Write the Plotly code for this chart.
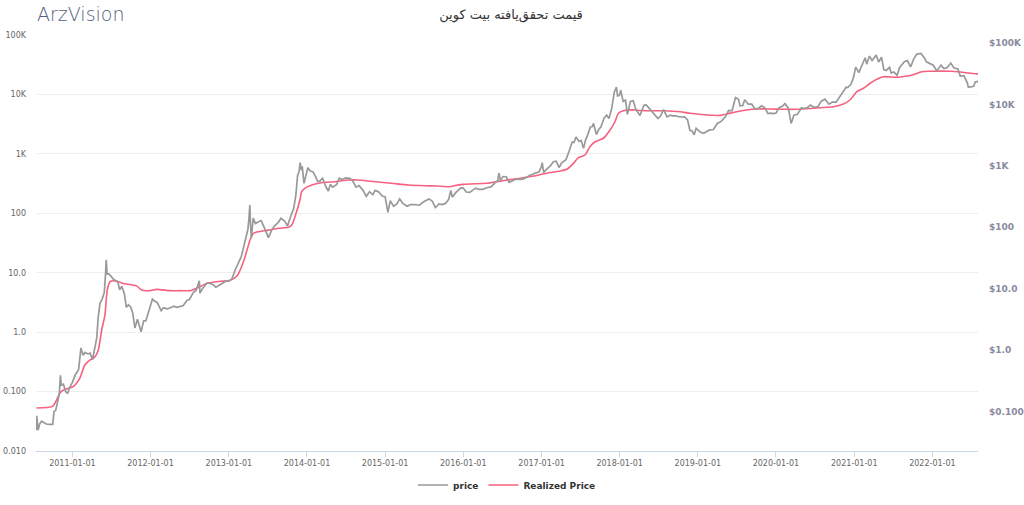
import plotly.graph_objects as go

# ---------------- data ----------------
price_dates = [
"2010-07-17","2010-07-18","2010-07-20","2010-07-25","2010-08-01","2010-08-10","2010-08-20","2010-09-01","2010-09-15",
"2010-10-01","2010-10-07","2010-10-15","2010-10-25","2010-11-01","2010-11-06","2010-11-10","2010-11-20","2010-12-01",
"2010-12-10","2010-12-20","2011-01-01","2011-01-15","2011-01-30","2011-02-10","2011-02-20","2011-03-01","2011-03-15",
"2011-03-25","2011-04-05","2011-04-15","2011-04-25","2011-05-01","2011-05-10","2011-05-20","2011-05-30","2011-06-05",
"2011-06-08","2011-06-12","2011-06-20","2011-06-30","2011-07-10","2011-07-20","2011-08-01","2011-08-10","2011-08-20",
"2011-09-01","2011-09-10","2011-09-20","2011-10-01","2011-10-10","2011-10-20","2011-11-01","2011-11-18","2011-11-30",
"2011-12-10","2011-12-20","2012-01-01","2012-01-10","2012-01-20","2012-02-01","2012-02-20","2012-03-01","2012-03-20",
"2012-04-01","2012-04-20","2012-05-01","2012-05-20","2012-06-01","2012-06-20","2012-07-01","2012-07-20","2012-08-01",
"2012-08-16","2012-08-19","2012-09-01","2012-09-20","2012-10-01","2012-10-20","2012-11-01","2012-11-20","2012-12-01",
"2012-12-20","2013-01-01","2013-01-15","2013-01-31","2013-02-15","2013-02-28","2013-03-10","2013-03-20","2013-03-31",
"2013-04-05","2013-04-09","2013-04-12","2013-04-16","2013-04-25","2013-05-05","2013-05-20","2013-06-01","2013-06-15",
"2013-07-05","2013-07-20","2013-08-01","2013-08-20","2013-09-01","2013-09-20","2013-10-02","2013-10-15","2013-10-31",
"2013-11-10","2013-11-18","2013-11-25","2013-11-30","2013-12-06","2013-12-10","2013-12-18","2013-12-25","2014-01-05",
"2014-01-15","2014-01-30","2014-02-07","2014-02-20","2014-03-01","2014-03-15","2014-03-31","2014-04-11","2014-04-20",
"2014-05-01","2014-05-20","2014-06-01","2014-06-15","2014-07-01","2014-07-20","2014-08-01","2014-08-18","2014-09-01",
"2014-09-20","2014-10-05","2014-10-20","2014-11-05","2014-11-15","2014-12-01","2014-12-20","2015-01-01","2015-01-14",
"2015-01-25","2015-02-10","2015-02-25","2015-03-10","2015-03-25","2015-04-14","2015-05-01","2015-05-20","2015-06-10",
"2015-06-30","2015-07-10","2015-07-25","2015-08-10","2015-08-24","2015-09-10","2015-09-25","2015-10-10","2015-10-25",
"2015-11-04","2015-11-11","2015-11-25","2015-12-10","2015-12-20","2016-01-01","2016-01-15","2016-01-31","2016-02-15",
"2016-02-28","2016-03-15","2016-04-01","2016-04-20","2016-05-10","2016-05-28","2016-06-10","2016-06-16","2016-06-23",
"2016-07-05","2016-07-20","2016-08-02","2016-08-20","2016-09-05","2016-09-20","2016-10-05","2016-10-25","2016-11-05",
"2016-11-20","2016-12-05","2016-12-20","2016-12-31","2017-01-04","2017-01-11","2017-01-25","2017-02-10","2017-02-25",
"2017-03-10","2017-03-24","2017-04-05","2017-04-25","2017-05-10","2017-05-24","2017-06-01","2017-06-11","2017-06-25",
"2017-07-05","2017-07-16","2017-07-25","2017-08-05","2017-08-17","2017-08-25","2017-09-01","2017-09-14","2017-09-25",
"2017-10-05","2017-10-20","2017-11-01","2017-11-12","2017-11-25","2017-12-07","2017-12-17","2017-12-22","2017-12-31",
"2018-01-06","2018-01-17","2018-01-28","2018-02-06","2018-02-20","2018-03-05","2018-03-18","2018-04-06","2018-04-24",
"2018-05-05","2018-05-20","2018-06-05","2018-06-29","2018-07-10","2018-07-25","2018-08-10","2018-08-25","2018-09-05",
"2018-09-20","2018-10-10","2018-10-31","2018-11-14","2018-11-25","2018-12-05","2018-12-15","2018-12-24","2019-01-10",
"2019-01-28","2019-02-10","2019-02-25","2019-03-15","2019-04-02","2019-04-20","2019-05-10","2019-05-25","2019-06-10",
"2019-06-26","2019-07-10","2019-07-17","2019-07-30","2019-08-08","2019-08-25","2019-09-10","2019-09-24","2019-10-10",
"2019-10-26","2019-11-10","2019-11-25","2019-12-10","2019-12-18","2020-01-01","2020-01-15","2020-02-01","2020-02-12",
"2020-02-28","2020-03-12","2020-03-25","2020-04-10","2020-04-29","2020-05-10","2020-05-25","2020-06-10","2020-06-27",
"2020-07-15","2020-07-31","2020-08-17","2020-09-05","2020-09-20","2020-10-08","2020-10-21","2020-11-05","2020-11-24",
"2020-12-01","2020-12-16","2020-12-27","2021-01-08","2021-01-22","2021-02-08","2021-02-21","2021-02-28","2021-03-13",
"2021-03-25","2021-04-13","2021-04-25","2021-05-08","2021-05-19","2021-05-30","2021-06-15","2021-06-22","2021-07-05",
"2021-07-20","2021-08-01","2021-08-23","2021-09-06","2021-09-21","2021-10-06","2021-10-20","2021-11-08","2021-11-25",
"2021-12-04","2021-12-20","2022-01-05","2022-01-22","2022-02-10","2022-02-24","2022-03-10","2022-03-28","2022-04-11",
"2022-04-30","2022-05-11","2022-05-28","2022-06-13","2022-06-18","2022-07-01","2022-07-13","2022-07-20","2022-07-30",
"2022-08-03"]
price_values = [
0.05,0.086,0.075,0.05,0.063,0.07,0.066,0.063,0.062,
0.062,0.10,0.105,0.15,0.20,0.39,0.27,0.28,0.21,
0.20,0.25,0.30,0.40,0.48,1.09,0.83,0.92,0.87,
0.90,0.70,1.05,1.60,3.3,5.8,6.8,8.7,17.5,
29.6,17.5,17.5,16.1,14.5,13.7,13.1,9.6,11.0,
8.2,5.0,5.5,5.0,4.0,2.3,3.2,2.0,3.0,
3.0,3.9,5.3,6.8,6.3,6.0,4.4,4.9,4.7,
4.9,5.2,5.0,5.1,5.3,6.5,6.7,8.8,9.4,
13.5,8.5,10.2,12.3,12.4,11.6,10.6,11.6,12.6,
13.4,13.3,14.4,20.4,27.0,33.4,46.0,64.0,93.0,
142,230,117,68,141,115,123,129,100,
68,90,104,120,140,125,105,145,204,
330,700,800,1130,850,980,520,680,930,
830,800,700,560,560,630,450,390,500,
450,500,630,600,640,625,580,450,480,
400,320,380,340,400,380,320,315,175,
270,220,240,290,245,220,235,235,229,
260,270,290,265,210,240,235,245,285,
400,310,360,415,440,435,375,370,400,
435,415,415,440,455,530,575,760,580,
670,665,540,580,610,605,610,655,700,
730,760,800,960,1130,780,890,990,1170,
1190,940,1120,1260,1750,2450,2400,2950,2500,
2600,1930,2600,3230,4300,4330,4900,3240,3900,
4300,6000,6700,5900,8700,16000,19100,13800,14100,
17100,11200,11800,6900,11200,11500,8200,6600,9700,
9800,8500,7600,5900,6400,8200,6300,6700,6500,
6500,6250,6300,5600,3800,3700,3200,4100,3600,
3400,3650,3850,3900,4900,5300,6300,8000,7900,
12900,12100,9500,9600,11900,10100,10100,8500,8600,
9500,8800,7100,7200,7100,7200,8800,9400,10300,
8700,4900,6700,6900,8800,8600,8800,9800,9000,
9200,11300,12200,10100,10900,10900,12800,15600,19100,
18800,21300,26500,40600,33000,46200,57500,45200,61200,
52000,63500,49000,58800,37000,35700,40200,32500,33800,
29800,39900,49500,51800,40700,55300,66000,67500,57300,
49300,46700,43500,35000,43700,38300,39400,47100,39500,
37700,29000,29400,22500,19000,19300,19800,23200,23600,
22800]

realized_dates = [
"2010-07-17","2010-10-02","2010-11-04","2010-11-19","2011-01-04","2011-02-05","2011-02-28","2011-03-25","2011-04-17",
"2011-05-02","2011-05-18","2011-06-02","2011-06-13","2011-06-26","2011-07-19","2011-08-26","2011-10-28","2011-11-20",
"2011-12-29","2012-01-30","2012-04-01","2012-05-18","2012-07-04","2012-08-04","2012-09-20","2012-11-06","2013-01-07",
"2013-02-10","2013-03-13","2013-04-10","2013-04-25","2013-05-18","2013-07-04","2013-08-20","2013-10-06","2013-10-22",
"2013-11-06","2013-11-29","2013-12-07","2013-12-22","2014-01-23","2014-03-10","2014-05-11","2014-07-13","2014-08-28",
"2014-11-14","2015-01-31","2015-04-19","2015-07-06","2015-08-29","2015-10-30","2015-11-14","2016-01-01","2016-04-19",
"2016-06-05","2016-07-22","2016-09-23","2016-11-24","2017-01-25","2017-03-29","2017-04-29","2017-05-30","2017-06-22",
"2017-07-23","2017-08-15","2017-09-08","2017-10-17","2017-11-17","2017-12-10","2017-12-26","2018-01-18","2018-03-05",
"2018-04-05","2018-05-07","2018-07-24","2018-10-10","2018-11-26","2019-02-12","2019-04-15","2019-05-16","2019-07-01",
"2019-08-17","2019-10-03","2019-12-04","2020-02-04","2020-04-08","2020-05-24","2020-07-25","2020-09-26","2020-11-11",
"2020-12-12","2021-01-13","2021-02-13","2021-03-16","2021-04-16","2021-05-17","2021-07-18","2021-09-03","2021-10-04",
"2021-11-12","2021-12-21","2022-03-25","2022-05-11","2022-06-27","2022-08-04"]
realized_values = [
0.053,0.057,0.095,0.106,0.121,0.169,0.28,0.34,0.386,
0.50,1.09,1.94,5.1,7.06,7.3,6.6,6.0,5.1,
4.99,5.25,4.99,4.99,4.99,5.5,6.6,7.06,7.5,
9.0,16.4,35.6,46,49,52,56,58,63.5,
87.7,167,231,263,299,327,340,363,363,
340,320,299,291,288,280,288,307,320,
340,363,388,424,471,515,550,693,861,
957,1320,1600,1830,2520,3470,4810,5330,5500,
5350,5320,5320,5120,4810,4500,4450,4690,5120,
5470,5690,5690,5620,5620,5750,5980,6220,6910,
8060,11100,12700,15400,18000,19900,19400,20400,21500,
24100,24500,24500,23800,22700,22100]

left_tick_vals = [0.01, 0.1, 1, 10, 100, 1000, 10000, 100000]
left_tick_text = ["0.010", "0.100", "1.0", "10.0", "100", "1K", "10K", "100K"]
right_tick_vals = [0.1, 1, 10, 100, 1000, 10000, 100000]
right_tick_text = ["$0.100", "$1.0", "$10.0", "$100", "$1K", "$10K", "$100K"]

title_text = "قیمت تحقق‌یافته بیت کوین"

# ---------------- figure ----------------
FONT = "DejaVu Sans"
W, H = 1024, 505
fig = go.Figure()
fig.add_trace(go.Scatter(
    x=price_dates, y=price_values, name="price", mode="lines",
    line=dict(color="#999999", width=1.7), yaxis="y2"))
fig.add_trace(go.Scatter(
    x=realized_dates, y=realized_values, name="Realized Price", mode="lines",
    line=dict(color="#f7607e", width=1.6, shape="spline", smoothing=0.6), yaxis="y"))

fig.update_layout(
    width=W, height=H,
    paper_bgcolor="white", plot_bgcolor="white",
    margin=dict(l=36, r=46, t=35, b=54, autoexpand=False),
    font=dict(family=FONT, color="#666666", size=8),
    title=dict(text=title_text, x=511 / W, xref="container", xanchor="center",
               y=1 - 14 / H, yref="container", yanchor="middle",
               font=dict(family=FONT, size=13, color="#333333")),
    showlegend=True,
    legend=dict(orientation="h", x=0.5, xanchor="center", xref="paper",
                y=1 - 485 / H, yref="container", yanchor="middle",
                font=dict(family=FONT, size=9, color="#333333", weight="bold"),
                bgcolor="rgba(0,0,0,0)", itemwidth=30),
    xaxis=dict(type="date", range=["2010-07-15", "2022-08-02"],
               tick0="2011-01-01", dtick="M12", tickformat="%Y-%m-%d",
               ticks="outside", ticklen=5, tickcolor="#ccd6eb", tickwidth=1,
               ticklabelstandoff=-1,
               showline=True, linecolor="#ccd6eb", linewidth=1,
               showgrid=False, zeroline=False,
               tickfont=dict(family=FONT, size=8, color="#666666")),
    yaxis=dict(type="log", range=[-2, 5], tickvals=left_tick_vals, ticktext=left_tick_text,
               showgrid=True, gridcolor="#eeeeee", gridwidth=1, zeroline=False,
               showline=False, ticks="", ticklabelstandoff=9,
               tickfont=dict(family=FONT, size=8, color="#666666")),
    yaxis2=dict(type="log", range=[-1.64, 5.13], overlaying="y", side="right",
                tickvals=right_tick_vals, ticktext=right_tick_text,
                showgrid=False, zeroline=False, showline=False, ticks="",
                ticklabelstandoff=10,
                tickfont=dict(family=FONT, size=9, color="#8a8a9e", weight="bold")),
)

fig.add_annotation(text="ArzVision", xref="paper", x=-0.001, xanchor="left",
                   yref="paper", y=(451 - 14) / 416, yanchor="middle",
                   showarrow=False,
                   font=dict(family="DejaVu Sans", size=19, color="#52627f", weight=200))

# remove the default 8px page margin so the figure sits at the window's corner
fig.write_html("out.html", config={"displayModeBar": False},
               post_script="document.body.style.margin='0px';")
